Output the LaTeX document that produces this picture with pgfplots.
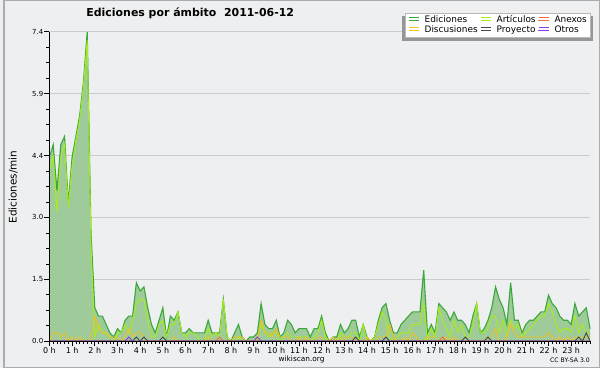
\documentclass[border=0pt]{standalone}
\usepackage{fontspec}
\setmainfont{DejaVu Sans}
\usepackage{pgfplots}
\usepackage{pgfplotstable}
\pgfplotsset{compat=1.18}
\usetikzlibrary{shadows}
\definecolor{bgc}{RGB}{238,239,240}
\definecolor{bordc}{RGB}{172,172,172}
\definecolor{gridc}{RGB}{204,204,204}
\definecolor{fillc}{RGB}{158,203,153}
\definecolor{edc}{RGB}{58,168,58}
\definecolor{artc}{RGB}{168,238,20}
\definecolor{anxc}{RGB}{240,110,60}
\definecolor{disc}{RGB}{244,192,30}
\definecolor{proc}{RGB}{70,70,70}
\definecolor{otrc}{RGB}{140,60,230}
\pgfplotsset{
  layers/gridbehind/.define layer set={
    axis background,axis grid,pre main,main,axis ticks,axis lines,axis tick labels,axis descriptions,axis foreground
  }{
    grid style={/pgfplots/on layer=axis grid},
    tick style={/pgfplots/on layer=axis ticks},
    axis line style={/pgfplots/on layer=axis lines},
    label style={/pgfplots/on layer=axis descriptions},
    legend style={/pgfplots/on layer=axis descriptions},
    title style={/pgfplots/on layer=axis descriptions},
    ticklabel style={/pgfplots/on layer=axis tick labels},
  },
}
\pgfplotstableread{
t ed art disc anx proy otr
0 4.4 4.1 0.0 0 0 0
1 4.7 4.4 0.2 0 0 0
2 3.6 3.1 0.2 0 0 0
3 4.7 4.4 0.1 0 0 0
4 4.9 4.7 0.2 0 0 0
5 3.3 3.2 0.0 0 0 0
6 4.4 4.2 0.1 0 0 0
7 4.9 4.8 0.0 0 0 0
8 5.4 5.3 0.1 0 0 0
9 6.2 6.1 0.0 0 0 0
10 7.4 7.2 0.0 0 0 0
11 2.6 2.3 0.1 0 0 0
12 0.8 0.1 0.6 0 0 0
13 0.6 0.4 0.3 0 0 0
14 0.6 0.2 0.2 0 0 0
15 0.4 0.2 0.2 0 0 0
16 0.2 0.1 0.1 0 0 0
17 0.1 0.0 0.1 0 0 0
18 0.3 0.2 0.1 0 0 0
19 0.2 0.2 0.0 0 0 0
20 0.5 0.4 0.1 0 0 0
21 0.6 0.2 0.3 0 0 0.1
22 0.6 0.5 0.1 0 0 0
23 1.4 0.9 0.2 0 0.1 0
24 1.2 1.0 0.2 0 0 0
25 1.3 1.0 0.1 0 0.1 0
26 0.8 0.5 0.0 0 0 0
27 0.4 0.1 0.0 0 0 0
28 0.2 0.1 0.0 0 0 0
29 0.5 0.4 0.0 0 0 0
30 0.8 0.5 0.0 0 0.1 0
31 0.1 0.1 0.0 0 0 0
32 0.6 0.4 0.0 0 0 0
33 0.5 0.4 0.1 0 0 0
34 0.7 0.7 0.0 0 0 0
35 0.2 0.2 0.0 0 0 0
36 0.2 0.1 0.0 0 0 0
37 0.3 0.2 0.0 0 0 0
38 0.2 0.2 0.0 0 0 0
39 0.2 0.1 0.0 0 0 0
40 0.2 0.0 0.0 0 0 0
41 0.2 0.0 0.0 0 0 0
42 0.5 0.3 0.1 0 0 0
43 0.2 0.1 0.0 0 0 0
44 0.2 0.2 0.0 0 0 0
45 0.2 0.1 0.0 0.1 0 0
46 1.0 1.0 0.0 0 0 0
47 0.1 0.1 0.0 0 0 0
48 0.0 0.0 0.0 0 0 0
49 0.2 0.0 0.1 0 0 0
50 0.4 0.1 0.1 0 0 0
51 0.1 0.0 0.1 0 0 0
52 0.0 0.0 0.0 0 0 0
53 0.1 0.0 0.0 0 0 0
54 0.1 0.0 0.0 0 0 0
55 0.2 0.1 0.0 0 0 0.1
56 0.9 0.4 0.5 0 0 0
57 0.4 0.2 0.2 0 0 0
58 0.3 0.1 0.2 0 0 0
59 0.3 0.2 0.1 0 0 0
60 0.5 0.2 0.3 0 0 0
61 0.1 0.0 0.1 0 0 0
62 0.2 0.1 0.1 0 0 0
63 0.5 0.2 0.1 0 0 0
64 0.4 0.1 0.0 0 0 0
65 0.2 0.1 0.0 0 0 0
66 0.3 0.1 0.1 0 0 0
67 0.3 0.1 0.0 0 0 0
68 0.3 0.1 0.1 0 0 0
69 0.1 0.0 0.0 0 0 0
70 0.3 0.1 0.0 0 0 0
71 0.3 0.2 0.1 0 0 0
72 0.6 0.5 0.1 0 0 0
73 0.2 0.1 0.0 0 0 0
74 0.0 0.0 0.0 0 0 0
75 0.1 0.0 0.1 0 0 0
76 0.1 0.0 0.0 0 0 0
77 0.4 0.2 0.1 0 0 0
78 0.2 0.1 0.0 0 0 0
79 0.3 0.1 0.1 0 0 0
80 0.5 0.2 0.1 0 0 0
81 0.5 0.2 0.0 0 0.1 0
82 0.1 0.0 0.0 0 0 0
83 0.4 0.4 0.0 0 0 0
84 0.1 0.0 0.1 0 0 0
85 0.0 0.0 0.0 0 0 0
86 0.1 0.1 0.0 0 0 0
87 0.5 0.4 0.1 0 0 0
88 0.8 0.7 0.1 0 0 0
89 0.9 0.5 0.1 0 0.1 0
90 0.5 0.1 0.4 0 0 0
91 0.2 0.0 0.1 0 0 0
92 0.2 0.1 0.0 0 0 0
93 0.4 0.2 0.0 0 0 0
94 0.5 0.2 0.1 0 0 0
95 0.6 0.2 0.0 0 0 0
96 0.7 0.4 0.2 0 0 0
97 0.7 0.4 0.1 0 0 0
98 0.7 0.4 0.0 0 0 0
99 1.7 0.9 0.0 0 0 0
100 0.2 0.0 0.1 0 0 0
101 0.4 0.3 0.1 0 0 0
102 0.2 0.1 0.1 0 0 0
103 0.9 0.8 0.0 0 0 0
104 0.8 0.5 0.0 0.1 0 0
105 0.7 0.3 0.1 0 0 0
106 0.5 0.1 0.0 0 0 0
107 0.7 0.5 0.1 0 0 0
108 0.5 0.2 0.0 0 0 0
109 0.5 0.4 0.0 0 0 0
110 0.4 0.1 0.0 0 0.1 0
111 0.2 0.1 0.0 0 0 0
112 0.6 0.4 0.0 0 0 0
113 0.9 0.9 0.0 0 0 0
114 0.2 0.2 0.0 0 0 0
115 0.3 0.2 0.0 0 0 0
116 0.5 0.3 0.1 0 0.1 0
117 0.8 0.6 0.1 0 0 0
118 1.3 0.6 0.3 0 0 0
119 1.0 0.2 0.0 0 0 0
120 0.8 0.5 0.0 0 0 0
121 0.4 0.1 0.1 0 0 0
122 1.4 0.5 0.4 0 0 0
123 0.5 0.3 0.2 0 0 0
124 0.5 0.4 0.1 0 0 0
125 0.2 0.1 0.1 0 0 0
126 0.4 0.2 0.1 0 0 0
127 0.5 0.3 0.1 0 0 0
128 0.5 0.4 0.1 0 0 0
129 0.6 0.5 0.1 0 0 0
130 0.7 0.6 0.1 0 0 0
131 0.7 0.6 0.1 0 0 0
132 1.1 0.9 0.2 0 0 0
133 0.9 0.7 0.1 0 0 0
134 0.8 0.4 0.0 0 0 0
135 0.6 0.2 0.1 0 0 0
136 0.5 0.3 0.0 0 0 0
137 0.5 0.3 0.1 0 0 0
138 0.4 0.2 0.0 0 0 0
139 0.9 0.6 0.1 0 0 0
140 0.6 0.2 0.1 0 0.1 0
141 0.7 0.4 0.1 0 0 0
142 0.8 0.2 0.1 0 0.2 0
143 0.3 0.2 0.1 0 0 0
}\data
\begin{document}
\pagecolor{bgc}
\begin{tikzpicture}
\begin{axis}[
  set layers=gridbehind,
  at={(46.5pt,27pt)}, anchor=south west,
  scale only axis, width=543.5pt, height=311pt,
  xmin=0, xmax=143, ymin=0, ymax=7.4,
  enlargelimits=false, clip=false,
  axis x line*=bottom, axis y line*=left,
  axis line style={-, black, line width=1.2pt},
  tick style={black, line width=0.7pt},
  tick align=outside,
  major tick length=5pt, minor tick length=3pt,
  xtick={0,6,...,138},
  xticklabels={0 h,1 h,2 h,3 h,4 h,5 h,6 h,7 h,8 h,9 h,10 h,11 h,12 h,13 h,14 h,15 h,16 h,17 h,18 h,19 h,20 h,21 h,22 h,23 h},
  minor xtick={0,1,...,143},
  ytick={0,1.48,2.96,4.44,5.92,7.4},
  yticklabels={0.0,1.5,3.0,4.4,5.9,7.4},
  minor y tick num=3,
  ymajorgrids,
  major grid style={draw=gridc, line width=1pt},
  xticklabel style={font=\fontsize{8}{9}\selectfont, anchor=north, inner sep=0pt, yshift=-1pt},
  yticklabel style={font=\fontsize{7}{8}\selectfont, anchor=east, inner sep=0pt, xshift=-1pt},
  title={Ediciones por ámbito\ \ 2011-06-12},
  title style={font=\fontsize{11}{13}\selectfont\bfseries, at={(axis description cs:0.2604,1.061)}, anchor=center, yshift=-6pt},
  xlabel={wikiscan.org},
  xlabel style={font=\fontsize{7.4}{9}\selectfont, at={(axis description cs:0.4664,-0.0579)}, anchor=center},
  ylabel={Ediciones/min},
  ylabel style={font=\fontsize{10.5}{12}\selectfont, at={(axis description cs:-0.0672,0.498)}, anchor=center},
  legend columns=3,
  legend image code/.code={\draw[#1, line width=1pt] (0pt,2.6pt) -- (10pt,2.6pt);},
  legend style={
    at={(axis description cs:1,1.062)}, anchor=north east,
    draw={rgb,255:red,185;green,185;blue,185}, fill=white,
    inner xsep=3pt, inner ysep=2.8pt,
    font=\fontsize{9}{10}\selectfont,
    nodes={inner sep=0pt, text height=6.6pt, text depth=1.9pt},
    row sep=1.8pt,
    /tikz/every odd column/.append style={column sep=5.5pt},
    /tikz/every even column/.append style={column sep=2.5pt},
    drop shadow={shadow xshift=0pt, shadow yshift=-3pt, shadow scale=1.03, fill={rgb,255:red,150;green,150;blue,150}, opacity=1},
  },
  legend cell align=left,
]
\addlegendimage{edc}
\addlegendimage{artc}
\addlegendimage{anxc}
\addlegendimage{disc}
\addlegendimage{proc}
\addlegendimage{otrc}
\legend{Ediciones,Artículos,Anexos,Discusiones,Proyecto,Otros}
\addplot[draw=none, fill=fillc, forget plot] table[x=t, y=ed] {\data} \closedcycle;
\addplot[edc, line width=1.1pt, forget plot] table[x=t, y=ed] {\data};
\addplot[artc, line width=0.9pt, forget plot] table[x=t, y=art] {\data};
\addplot[disc, line width=0.9pt, forget plot] table[x=t, y=disc] {\data};
\addplot[anxc, line width=0.9pt, forget plot] table[x=t, y=anx] {\data};
\addplot[proc, line width=0.9pt, forget plot] table[x=t, y=proy] {\data};
\addplot[otrc, line width=0.9pt, forget plot] table[x=t, y=otr] {\data};
\node[anchor=east, inner sep=0pt, font=\fontsize{6.2}{7}\selectfont] at (axis description cs:1,-0.061) {CC BY-SA 3.0};
\end{axis}
\draw[bordc, line width=1.5pt] (0.75pt,0.75pt) rectangle (599.25pt,369.25pt);
\pgfresetboundingbox
\useasboundingbox (0,0) rectangle (600pt,370pt);
\end{tikzpicture}
\end{document}
